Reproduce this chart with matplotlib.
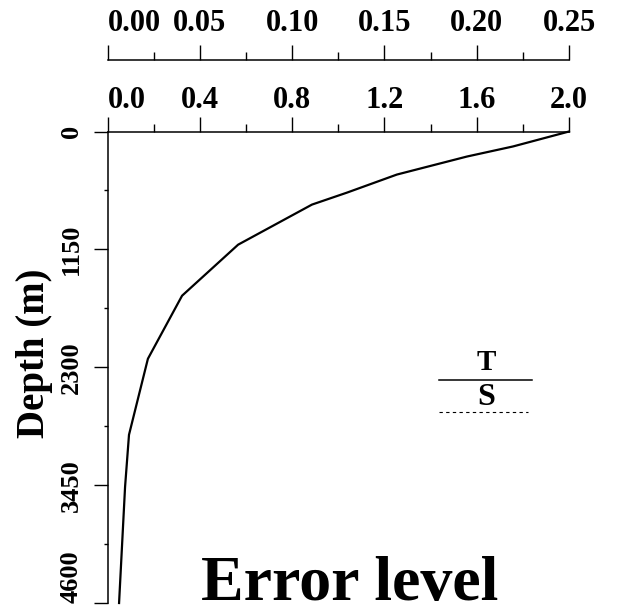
import matplotlib
matplotlib.use("Agg")
import matplotlib.pyplot as plt
from matplotlib.lines import Line2D
from matplotlib.ticker import MultipleLocator

# error level of T against depth
depth_m = [0, 146, 244, 420, 596, 713, 1104, 1602, 2217, 2959, 3467, 4600]
error_t = [2.0, 1.757, 1.558, 1.254, 1.038, 0.886, 0.566, 0.323, 0.175, 0.093, 0.076, 0.050]

lower_ticks = [0.0, 0.4, 0.8, 1.2, 1.6, 2.0]
upper_ticks = [0.00, 0.05, 0.10, 0.15, 0.20, 0.25]
depth_ticks = [0, 1150, 2300, 3450, 4600]
legend_labels = ["T", "S"]

plt.rcParams["font.family"] = ["Liberation Serif", "DejaVu Serif"]
plt.rcParams["font.weight"] = "bold"

fig = plt.figure(figsize=(6.27, 6.08), dpi=100)
ax = fig.add_axes([0.1715, 0.0082, 0.736, 0.7755])

ax.plot(error_t, depth_m, color="black", lw=1.6, clip_on=False)

ax.set_xlim(0, 2.0)
ax.set_ylim(4600, 0)

for side in ("right", "bottom"):
    ax.spines[side].set_visible(False)
for side in ("top", "left"):
    ax.spines[side].set_linewidth(1.1)

ax.xaxis.tick_top()
ax.set_xticks(lower_ticks)
ax.set_xticklabels([f"{v:.1f}" for v in lower_ticks])
ax.xaxis.set_minor_locator(MultipleLocator(0.2))
ax.tick_params(axis="x", which="major", direction="out", length=11, width=1.0,
               labelsize=22, pad=1)
ax.tick_params(axis="x", which="minor", direction="out", length=6, width=1.0)
ax.get_xticklabels()[0].set_ha("left")

ax.set_yticks(depth_ticks)
ax.set_yticklabels([str(v) for v in depth_ticks], rotation=90, va="center")
ax.yaxis.set_minor_locator(MultipleLocator(575))
ax.tick_params(axis="y", which="major", direction="out", length=10, width=1.0,
               labelsize=19, pad=8)
ax.tick_params(axis="y", which="minor", direction="out", length=3, width=1.0)
ax.get_yticklabels()[-1].set_va("bottom")

ax.set_ylabel("Depth (m)", fontsize=28, fontweight="bold")
ax.yaxis.set_label_coords(-0.118, 0.529)

# upper scale, 1/8 of the lower one
sec = ax.secondary_xaxis(1.151, functions=(lambda x: x / 8.0, lambda x: x * 8.0))
sec.set_xticks(upper_ticks)
sec.set_xticklabels([f"{v:.2f}" for v in upper_ticks])
sec.xaxis.set_minor_locator(MultipleLocator(0.025))
sec.spines["top"].set_linewidth(1.1)
sec.tick_params(axis="x", which="major", direction="out", length=11, width=1.0,
                labelsize=22, pad=5)
sec.tick_params(axis="x", which="minor", direction="out", length=6, width=1.0)
sec.get_xticklabels()[0].set_ha("left")

# legend: label above its line
ax.text(0.82, 0.4947, legend_labels[0], transform=ax.transAxes, ha="center",
        va="baseline", fontsize=21, fontweight="bold")
ax.add_line(Line2D([0.719, 0.920], [0.4735, 0.4735], transform=ax.transAxes,
                   color="black", lw=1.1))
ax.text(0.82, 0.42, legend_labels[1], transform=ax.transAxes, ha="center",
        va="baseline", fontsize=23, fontweight="bold")
ax.add_line(Line2D([0.719, 0.911], [0.4055, 0.4055], transform=ax.transAxes,
                   color="black", lw=0.8, ls=(0, (3, 3))))

ax.text(0.525, 0.006, "Error level", transform=ax.transAxes, ha="center",
        va="baseline", fontsize=46, fontweight="bold")

fig.savefig("out.png", dpi=100)
